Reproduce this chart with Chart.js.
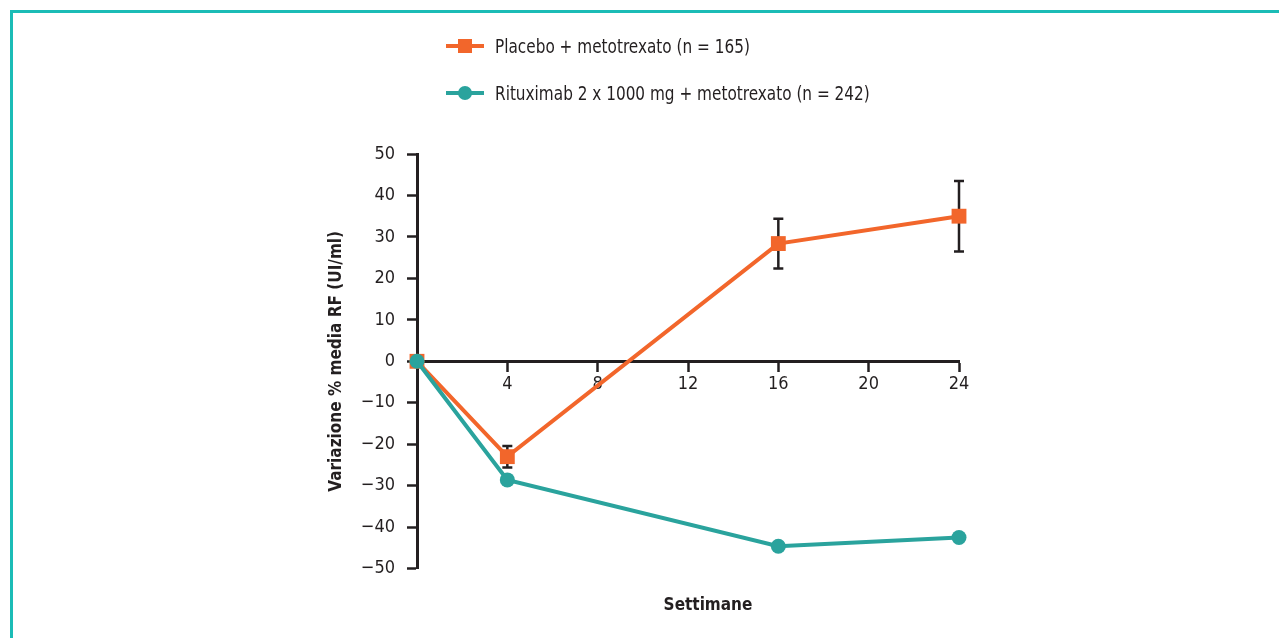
<!DOCTYPE html>
<html>
<head>
<meta charset="utf-8">
<script src="https://cdn.jsdelivr.net/npm/chart.js@4"></script>
<style>
  html, body { margin: 0; padding: 0; background: #fff; }
  #wrap { position: relative; width: 1279px; height: 638px; overflow: hidden; }
  #frame { position: absolute; left: 10px; top: 10px; right: -10px; bottom: -10px;
           border-top: 3px solid #1bbcb6; border-left: 3px solid #1bbcb6; }
  canvas { position: absolute; left: 0; top: 0; }
  .legend { position: absolute; left: 446px; font-family: "DejaVu Sans Condensed", "Liberation Sans Narrow", "Roboto", sans-serif;
            font-size: 20px; color: #231f20; }
  .item { position: absolute; left: 0; height: 24px; white-space: nowrap; }
  .sym { position: absolute; left: 0; top: 12px; width: 38px; height: 4px; margin-top: -2px; }
  .mk { position: absolute; left: 12px; top: 5px; width: 14px; height: 14px; }
  .lbl { position: absolute; left: 49px; top: 0; line-height: 24px; transform: scaleX(0.85); transform-origin: 0 50%; }
</style>
</head>
<body>
<div id="wrap">
  <div id="frame"></div>
  <canvas id="rf" width="1279" height="638"></canvas>
  <div class="legend">
    <div class="item" style="top:34px">
      <div class="sym" style="background:#f2662b"></div>
      <div class="mk" style="background:#f2662b"></div>
      <div class="lbl">Placebo + metotrexato (n = 165)</div>
    </div>
    <div class="item" style="top:81px">
      <div class="sym" style="background:#2aa39d"></div>
      <div class="mk" style="background:#2aa39d;border-radius:50%"></div>
      <div class="lbl">Rituximab 2 x 1000 mg + metotrexato (n = 242)</div>
    </div>
  </div>
</div>
<script>
// settimane
var weeks = [0, 4, 16, 24];
// variazione % media RF
var placebo = [0, -23, 28.4, 35];
var placeboErr = [0, 2.6, 6, 8.5];
var rituximab = [0, -28.6, -44.6, -42.5];

var orange = "#f2662b";
var teal = "#2aa39d";
var ink = "#231f20";
var font = "'DejaVu Sans Condensed', 'Liberation Sans Narrow', Roboto, sans-serif";

function pts(ys) {
  return weeks.map(function (w, i) { return {x: w, y: ys[i]}; });
}
function minus(v) {
  return String(v).replace("-", "\u2212");
}

// barre di errore placebo
var errorBars = {
  id: "errorBars",
  beforeDatasetsDraw: function (chart) {
    var ctx = chart.ctx, xs = chart.scales.x, ys = chart.scales.y;
    ctx.save();
    ctx.strokeStyle = ink;
    ctx.lineWidth = 2.5;
    weeks.forEach(function (w, i) {
      if (!placeboErr[i]) return;
      var px = xs.getPixelForValue(w);
      var top = ys.getPixelForValue(placebo[i] + placeboErr[i]);
      var bot = ys.getPixelForValue(placebo[i] - placeboErr[i]);
      ctx.beginPath();
      ctx.moveTo(px, top); ctx.lineTo(px, bot);
      ctx.moveTo(px - 5, top); ctx.lineTo(px + 5, top);
      ctx.moveTo(px - 5, bot); ctx.lineTo(px + 5, bot);
      ctx.stroke();
    });
    ctx.restore();
  }
};

// "Settimane" sta un po' a destra del centro
var shiftTitle = {
  id: "shiftTitle",
  afterLayout: function (chart) {
    var s = chart.scales.x2;
    s.left += 20;
    s.right += 20;
  }
};

new Chart("rf", {
  type: "line",
  data: {
    datasets: [{
      label: "Rituximab 2 x 1000 mg + metotrexato (n = 242)",
      data: pts(rituximab),
      borderColor: teal,
      backgroundColor: teal,
      borderWidth: 4,
      pointStyle: "circle",
      pointRadius: 7.5,
      pointBorderWidth: 0,
      clip: false
    }, {
      label: "Placebo + metotrexato (n = 165)",
      data: pts(placebo),
      borderColor: orange,
      backgroundColor: orange,
      borderWidth: 4,
      pointStyle: "rect",
      pointRadius: 10.5,
      pointBorderWidth: 0,
      clip: false
    }]
  },
  options: {
    responsive: false,
    animation: false,
    layout: {padding: {left: 322, right: 320, top: 154, bottom: 18}},
    plugins: {legend: {display: false}, tooltip: {enabled: false}},
    scales: {
      x: {
        type: "linear",
        position: {y: 0},
        min: 0, max: 24,
        grid: {drawOnChartArea: false, tickLength: 9, tickColor: ink, tickWidth: 2.5},
        border: {color: ink, width: 3},
        ticks: {
          stepSize: 4, color: ink, padding: 3, maxRotation: 0,
          font: {family: font, size: 18},
          callback: function (v) { return v === 0 ? "" : v; }
        }
      },
      x2: {
        type: "linear",
        position: "bottom",
        min: 0, max: 24,
        grid: {display: false},
        border: {display: false},
        ticks: {display: false},
        title: {display: true, text: "Settimane", color: ink,
                font: {family: font, size: 17, weight: "bold"}, padding: {top: 19, bottom: 4}}
      },
      y: {
        min: -50, max: 50,
        grid: {drawOnChartArea: false, tickLength: 10, tickColor: ink, tickWidth: 2.5},
        border: {color: ink, width: 3},
        ticks: {
          stepSize: 10, color: ink, padding: 12,
          font: {family: font, size: 18},
          callback: function (v) { return minus(v); }
        },
        title: {display: true, text: "Variazione % media RF (UI/ml)", color: ink,
                font: {family: font, size: 17, weight: "bold"}, padding: {top: 4, bottom: 0}},
        afterFit: function (s) { s.width = 95; }
      }
    }
  },
  plugins: [errorBars, shiftTitle]
});
</script>
</body>
</html>
